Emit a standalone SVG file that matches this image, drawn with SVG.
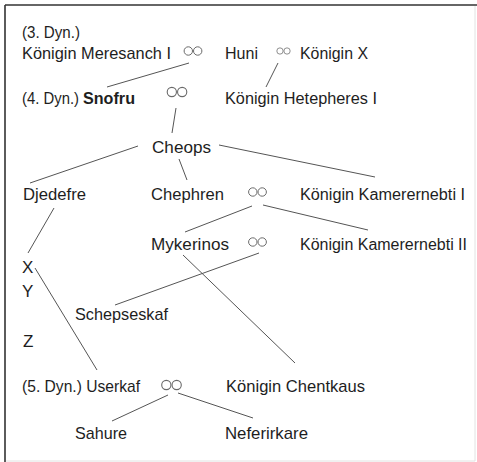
<svg xmlns="http://www.w3.org/2000/svg" width="477" height="462" viewBox="0 0 477 462">
<style>
text{font-family:"Liberation Sans",Arial,sans-serif;font-size:17px;fill:#1e1e1e}
.b{font-weight:bold}
.k{font-size:16px}
.c line{stroke:#555;stroke-width:1}
.m circle{fill:none;stroke:#6a6a6a;stroke-width:1}
</style>
<defs>
<g id="mar" class="m"><circle cx="-4.7" cy="0" r="4.2"/><circle cx="4.7" cy="0" r="4.2"/></g>
</defs>
<rect width="477" height="462" fill="#fff"/>
<g id="frame">
<line x1="5" y1="5" x2="477" y2="5" stroke="#333" stroke-width="1.6"/>
<line x1="5" y1="5" x2="5" y2="462" stroke="#333" stroke-width="1.6"/>
<line x1="475" y1="6" x2="475" y2="461" stroke="#e2e2e2" stroke-width="1"/>
<line x1="6" y1="461" x2="475" y2="461" stroke="#e2e2e2" stroke-width="1"/>
</g>
<g id="connectors" class="c">
<line x1="189" y1="63" x2="107" y2="87"/>
<line x1="278" y1="63" x2="266" y2="87"/>
<line x1="176" y1="108" x2="172" y2="133"/>
<line x1="138" y1="146" x2="30" y2="183"/>
<line x1="219" y1="145" x2="375" y2="177"/>
<line x1="179" y1="159" x2="187" y2="180"/>
<line x1="252" y1="206" x2="185" y2="232"/>
<line x1="263" y1="205" x2="368" y2="230"/>
<line x1="54" y1="208" x2="28" y2="253"/>
<line x1="259" y1="253" x2="115" y2="305"/>
<line x1="183" y1="255" x2="295" y2="363"/>
<line x1="35" y1="268" x2="97" y2="370"/>
<line x1="168" y1="395" x2="112" y2="421"/>
<line x1="178" y1="393" x2="253" y2="418"/>
</g>
<g id="n-dyn3"><text x="22" y="38" textLength="58" lengthAdjust="spacingAndGlyphs">(3. Dyn.)</text></g>
<g id="n-meresanch"><text x="22" y="59" textLength="149" lengthAdjust="spacingAndGlyphs">Königin Meresanch I</text></g>
<g id="m-meresanch-huni"><use href="#mar" transform="translate(193,51)"/></g>
<g id="n-huni"><text x="225" y="59" textLength="33" lengthAdjust="spacingAndGlyphs">Huni</text></g>
<g id="m-huni-x"><use href="#mar" transform="translate(283.5,51) scale(0.75)"/></g>
<g id="n-koeniginx"><text x="300" y="59" textLength="68" lengthAdjust="spacingAndGlyphs">Königin X</text></g>
<g id="n-snofru"><text x="22" y="104" textLength="57" lengthAdjust="spacingAndGlyphs">(4. Dyn.)</text><text class="b" x="83" y="104" textLength="52" lengthAdjust="spacingAndGlyphs">Snofru</text></g>
<g id="m-snofru"><use href="#mar" transform="translate(177,92) scale(1.1)"/></g>
<g id="n-hetepheres"><text x="225" y="104" textLength="152" lengthAdjust="spacingAndGlyphs">Königin Hetepheres I</text></g>
<g id="n-cheops"><text x="152" y="153" textLength="59" lengthAdjust="spacingAndGlyphs">Cheops</text></g>
<g id="n-djedefre"><text x="23" y="200" textLength="63" lengthAdjust="spacingAndGlyphs">Djedefre</text></g>
<g id="n-chephren"><text x="151" y="200" textLength="73" lengthAdjust="spacingAndGlyphs">Chephren</text></g>
<g id="m-chephren"><use href="#mar" transform="translate(257.5,192)"/></g>
<g id="n-kamerernebti1"><text class="k" x="300" y="200" textLength="165" lengthAdjust="spacingAndGlyphs">Königin Kamerernebti I</text></g>
<g id="n-mykerinos"><text x="151" y="250" textLength="78" lengthAdjust="spacingAndGlyphs">Mykerinos</text></g>
<g id="m-mykerinos"><use href="#mar" transform="translate(257.5,242)"/></g>
<g id="n-kamerernebti2"><text class="k" x="300" y="250" textLength="167" lengthAdjust="spacingAndGlyphs">Königin Kamerernebti II</text></g>
<g id="n-x"><text x="22" y="273">X</text></g>
<g id="n-y"><text x="22" y="297">Y</text></g>
<g id="n-schepseskaf"><text x="75" y="320" textLength="93" lengthAdjust="spacingAndGlyphs">Schepseskaf</text></g>
<g id="n-z"><text x="23" y="347">Z</text></g>
<g id="n-userkaf"><text x="22" y="392" textLength="118" lengthAdjust="spacingAndGlyphs">(5. Dyn.) Userkaf</text></g>
<g id="m-userkaf"><use href="#mar" transform="translate(171.5,385) scale(1.1)"/></g>
<g id="n-chentkaus"><text x="226" y="392" textLength="139" lengthAdjust="spacingAndGlyphs">Königin Chentkaus</text></g>
<g id="n-sahure"><text x="75" y="439" textLength="52" lengthAdjust="spacingAndGlyphs">Sahure</text></g>
<g id="n-neferirkare"><text x="225" y="439" textLength="83" lengthAdjust="spacingAndGlyphs">Neferirkare</text></g>
</svg>
